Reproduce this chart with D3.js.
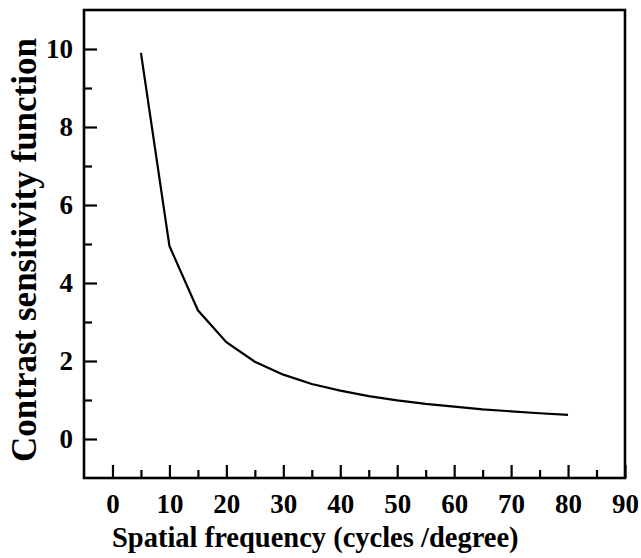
<!DOCTYPE html>
<html>
<head>
<meta charset="utf-8">
<script src="https://cdn.jsdelivr.net/npm/d3@7"></script>
<style>
  html, body { margin: 0; padding: 0; background: #fff; }
  svg { display: block; }
  text { font-family: "Liberation Serif", "Times New Roman", serif; font-weight: bold; fill: #000; }
</style>
</head>
<body>
<svg id="chart"></svg>
<script>
// spatial frequency (cycles/degree) and contrast sensitivity
const frequency = [5, 10, 15, 20, 25, 30, 35, 40, 45, 50, 55, 60, 65, 70, 75, 80];
const sensitivity = [9.9, 4.95, 3.3, 2.48, 1.98, 1.65, 1.41, 1.24, 1.1, 0.99, 0.9, 0.83, 0.76, 0.71, 0.66, 0.62];

const xTicks = [0, 10, 20, 30, 40, 50, 60, 70, 80, 90];
const yTicks = [0, 2, 4, 6, 8, 10];

const fullWidth = 641;
const fullHeight = 558;
const margin = {top: 10, right: 16, bottom: 80, left: 84};
const width = fullWidth - margin.left - margin.right;
const height = fullHeight - margin.top - margin.bottom;

const x = d3.scaleLinear().domain([-5, 90]).range([0, width]);
const y = d3.scaleLinear().domain([-1, 11]).range([height, 0]);

const svg = d3.select('#chart')
    .attr('width', fullWidth)
    .attr('height', fullHeight);

const g = svg.append('g')
    .attr('transform', `translate(${margin.left},${margin.top})`);

// minor ticks, drawn inward
const xMinor = d3.axisBottom(x)
    .tickValues(d3.range(5, 90, 10))
    .tickSize(-8)
    .tickFormat('');
const yMinor = d3.axisLeft(y)
    .tickValues(d3.range(1, 11, 2))
    .tickSize(-8)
    .tickFormat('');

const xAxis = d3.axisBottom(x)
    .tickValues(xTicks)
    .tickSize(-13)
    .tickPadding(16)
    .tickFormat(d3.format('d'));
const yAxis = d3.axisLeft(y)
    .tickValues(yTicks)
    .tickSize(-13)
    .tickPadding(11)
    .tickFormat(d3.format('d'));

function style(sel) {
    sel.select('.domain').remove();
    sel.selectAll('line').attr('stroke', '#000').attr('stroke-width', 2.2);
    sel.selectAll('text').style('font-size', '27px');
}

g.append('g').attr('transform', `translate(0,${height})`).call(xMinor).call(style);
g.append('g').call(yMinor).call(style);
g.append('g').attr('class', 'axis axis--x')
    .attr('transform', `translate(0,${height})`)
    .call(xAxis).call(style);
g.append('g').attr('class', 'axis axis--y')
    .call(yAxis).call(style);

// frame
g.append('rect')
    .attr('width', width)
    .attr('height', height)
    .attr('fill', 'none')
    .attr('stroke', '#000')
    .attr('stroke-width', 2.6);

const line = d3.line()
    .x((d, i) => x(frequency[i]))
    .y(d => y(d));

g.append('path')
    .datum(sensitivity)
    .attr('fill', 'none')
    .attr('stroke', '#000')
    .attr('stroke-width', 2.2)
    .attr('d', line);

svg.append('text')
    .attr('x', 112)
    .attr('y', 547)
    .style('font-size', '28.5px')
    .text('Spatial frequency (cycles /degree)');

svg.append('text')
    .attr('transform', 'translate(36,250) rotate(-90)')
    .attr('text-anchor', 'middle')
    .style('font-size', '35px')
    .text('Contrast sensitivity function');
</script>
</body>
</html>
